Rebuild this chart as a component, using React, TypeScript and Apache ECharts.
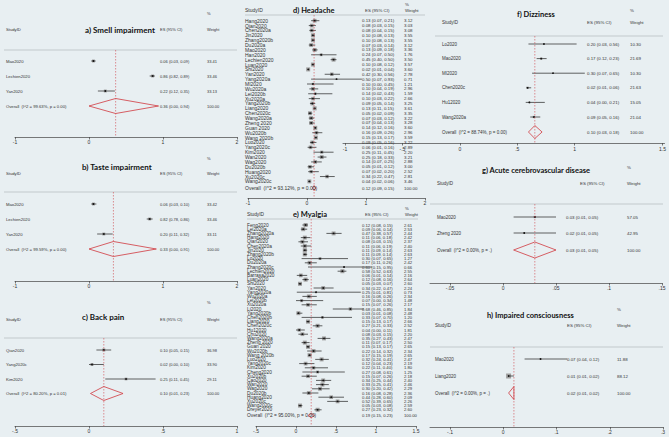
import React, { useEffect, useRef } from "react";
import * as echarts from "echarts";

// ---------- a) Smell impairment ----------
const smellStudies = ["Mao2020", "Lechien2020", "Yan2020"];
const smellES = [0.06, 0.86, 0.22];
const smellLo = [0.03, 0.82, 0.12];
const smellHi = [0.09, 0.89, 0.35];
const smellWeight = [33.41, 33.46, 33.13];
const smellOverall = [0.36, 0.0, 0.94];
const smellHet = "Overall  (I^2 = 99.63%, p = 0.00)";
const smellTicks = [-1, 0, 1, 2];

// ---------- b) Taste impairment ----------
const tasteStudies = ["Mao2020", "Lechien2020", "Yan2020"];
const tasteES = [0.06, 0.82, 0.2];
const tasteLo = [0.03, 0.78, 0.11];
const tasteHi = [0.1, 0.86, 0.32];
const tasteWeight = [33.42, 33.46, 33.11];
const tasteOverall = [0.33, 0.0, 0.91];
const tasteHet = "Overall  (I^2 = 99.59%, p = 0.00)";
const tasteTicks = [-1, 0, 1, 2];

// ---------- c) Back pain ----------
const backStudies = ["Qian2020", "Yang2020c", "Kim2020"];
const backES = [0.1, 0.02, 0.25];
const backLo = [0.05, 0.0, 0.11];
const backHi = [0.15, 0.1, 0.45];
const backWeight = [36.98, 33.9, 29.11];
const backOverall = [0.1, 0.01, 0.23];
const backHet = "Overall  (I^2 = 80.20%, p = 0.01)";
const backTicks = [-0.5, 0, 0.5, 1];

// ---------- d) Headache ----------
const headStudies = [
  "Hang2020", "Qian2020", "Chen2020a", "Jin2020", "Zhang2020b", "Du2020a", "Mao2020", "Han2020",
  "Lechien2020", "Luan2020", "Shi2020", "Yan2020", "Yang2020a", "MI2020", "Wu2020a", "Lei2020b",
  "Xu2020a", "Yang2020b", "Liang2020", "Chen2020c", "Wang2020a", "Zheng 2020", "Guan 2020", "Wu2020b",
  "Wang 2020b", "Luo2020", "Yang2020c", "Kim2020", "Wan2020", "Wag2020", "Du2020b", "Huang2020",
  "Xu2020c", "Wang2020c",
];
const headES = [0.13, 0.08, 0.08, 0.1, 0.1, 0.07, 0.13, 0.24, 0.45, 0.1, 0.02, 0.42, 0.5, 0.1, 0.1, 0.14, 0.1, 0.09, 0.13, 0.05, 0.07, 0.07, 0.14, 0.16, 0.15, 0.09, 0.06, 0.25, 0.25, 0.14, 0.05, 0.07, 0.34, 0.04];
const headLo = [0.07, 0.03, 0.04, 0.08, 0.08, 0.03, 0.09, 0.07, 0.4, 0.08, 0.01, 0.3, 0.07, 0.0, 0.04, 0.02, 0.03, 0.05, 0.11, 0.02, 0.03, 0.04, 0.12, 0.09, 0.13, 0.05, 0.01, 0.11, 0.18, 0.07, 0.01, 0.02, 0.22, 0.02];
const headHi = [0.21, 0.15, 0.15, 0.13, 0.13, 0.14, 0.18, 0.5, 0.5, 0.12, 0.04, 0.56, 0.93, 0.45, 0.19, 0.43, 0.22, 0.14, 0.15, 0.09, 0.12, 0.13, 0.16, 0.26, 0.17, 0.16, 0.16, 0.45, 0.33, 0.25, 0.12, 0.2, 0.47, 0.06];
const headWeight = [3.12, 3.03, 3.08, 3.55, 3.55, 3.12, 3.36, 1.76, 3.5, 3.57, 3.6, 2.78, 0.71, 1.21, 2.96, 1.59, 2.66, 3.25, 3.61, 3.35, 3.22, 3.28, 3.6, 2.96, 3.59, 3.22, 2.89, 2.2, 3.21, 2.88, 3.0, 2.52, 2.81, 3.46];
const headOverall = [0.12, 0.09, 0.15];
const headHet = "Overall  (I^2 = 93.12%, p = 0.00)";
const headTicks = [-1, 0, 1, 2];

// ---------- e) Myalgia ----------
const myaStudies = [
  "Feng2020", "Lei2020a", "Zhang2020a", "Hang2020", "Qian2020", "Chen2020a", "Jin2020", "Zhang2020b",
  "Lo2020", "Du2020a", "Zhang2020c", "Lechien2020", "Barrasa2020", "Luan2020", "Shi2020", "Yan2020",
  "Yang2020a", "Wu2020a", "Lei2020b", "Xu2020a", "Li2020", "Yang2020b", "Chen2020b", "Liang2020",
  "Chen2020c", "Hu12020", "Chu2020", "Wang2020a", "Zheng 2020", "Guan 2020", "Wu2020b", "Wang 2020b",
  "Luo2020", "Yang2020c", "Kim2020", "Cheng2020", "Xu2020b", "Cao2020", "Wan2020", "Wag2020",
  "Du2020b", "Huang2020", "Xu2020c", "Wang2020c", "Dreyer2020",
];
const myaES = [0.12, 0.09, 0.47, 0.11, 0.08, 0.11, 0.11, 0.11, 0.3, 0.17, 0.6, 0.58, 0.06, 0.12, 0.05, 0.34, 0.25, 0.16, 0.07, 0.15, 0.68, 0.03, 0.33, 0.15, 0.27, 0.04, 0.08, 0.35, 0.11, 0.15, 0.22, 0.17, 0.32, 0.12, 0.22, 0.27, 0.15, 0.34, 0.33, 0.3, 0.16, 0.44, 0.52, 0.05, 0.27];
const myaLo = [0.08, 0.06, 0.38, 0.06, 0.03, 0.06, 0.09, 0.09, 0.07, 0.11, 0.15, 0.52, 0.01, 0.08, 0.03, 0.22, 0.01, 0.08, 0.0, 0.07, 0.46, 0.01, 0.07, 0.13, 0.21, 0.0, 0.03, 0.27, 0.07, 0.13, 0.14, 0.15, 0.24, 0.04, 0.11, 0.08, 0.07, 0.25, 0.25, 0.2, 0.08, 0.28, 0.39, 0.03, 0.23];
const myaHi = [0.15, 0.14, 0.57, 0.18, 0.15, 0.19, 0.14, 0.14, 0.65, 0.26, 0.95, 0.63, 0.14, 0.16, 0.07, 0.47, 0.81, 0.26, 0.34, 0.26, 0.85, 0.08, 0.7, 0.17, 0.33, 0.11, 0.15, 0.43, 0.17, 0.17, 0.32, 0.19, 0.41, 0.23, 0.4, 0.61, 0.26, 0.44, 0.41, 0.42, 0.28, 0.6, 0.65, 0.08, 0.32];
const myaWeight = [2.61, 2.53, 2.44, 2.42, 2.37, 2.4, 2.63, 2.63, 1.27, 2.42, 0.66, 2.55, 2.16, 2.64, 2.6, 2.24, 0.73, 2.34, 1.48, 2.17, 1.84, 2.48, 1.2, 2.66, 2.52, 1.81, 2.2, 2.47, 2.5, 2.65, 2.34, 2.65, 2.47, 2.19, 1.8, 1.25, 2.18, 2.4, 2.46, 2.29, 2.36, 2.09, 2.26, 2.59, 2.6];
const myaOverall = [0.19, 0.15, 0.23];
const myaHet = "Overall  (I^2 = 95.00%, p = 0.00)";
const myaTicks = [-0.5, 0, 0.5, 1, 1.5];

// ---------- f) Dizziness ----------
const dizStudies = ["Lo2020", "Mao2020", "MI2020", "Chen2020c", "Hu12020", "Wang2020a"];
const dizES = [0.2, 0.17, 0.3, 0.02, 0.04, 0.09];
const dizLo = [0.03, 0.12, 0.07, 0.01, 0.0, 0.05];
const dizHi = [0.56, 0.23, 0.65, 0.06, 0.21, 0.16];
const dizWeight = [10.3, 21.69, 10.3, 21.63, 15.05, 21.04];
const dizOverall = [0.1, 0.03, 0.18];
const dizHet = "Overall  (I^2 = 88.74%, p = 0.00)";
const dizTickLabels = ["-1", "-.5", "0", ".5", "1", "1.5"];

// ---------- g) Acute cerebrovascular disease ----------
const cvdStudies = ["Mao2020", "Zheng 2020"];
const cvdES = [0.03, 0.02];
const cvdLo = [0.01, 0.01];
const cvdHi = [0.05, 0.05];
const cvdWeight = [57.05, 42.95];
const cvdOverall = [0.03, 0.01, 0.05];
const cvdHet = "Overall  (I^2 = 0.00%, p = .)";
const cvdTicks = [-0.05, 0, 0.05, 0.1, 0.15];

// ---------- h) Impaired consciousness ----------
const icStudies = ["Mao2020", "Liang2020"];
const icES = [0.07, 0.01];
const icLo = [0.04, 0.01];
const icHi = [0.12, 0.02];
const icWeight = [11.88, 88.12];
const icOverall = [0.02, 0.01, 0.02];
const icHet = "Overall  (I^2 = 0.00%, p = .)";
const icTicks = [-0.1, 0, 0.1, 0.2, 0.3];

const BG = "#e8eff2";
const TXT = "#333";
const SANS = "'Liberation Sans', Arial, sans-serif";
const TITLE_FONT = "Lato, 'Open Sans', sans-serif";

type Layout = {
  axisL: number; axisR: number; xMin: number; xMax: number;
  top: number; axisY: number; row0: number; step: number; overallY: number;
  nameX: number; esX: number; wX: number; nameFont: number; esFont: number;
  boxK: number; diamondH: number;
  titleX: number; titleY: number; titleFont: number;
  headY: number; pctY: number; esHeadX: number; wHeadX: number; divL: number; divR: number;
  labelMargin: number;
  // optional separate display scale for the drawn axis (panel f)
  disp?: { min: number; max: number; ticks: number[] };
};

const smallCol = { nameX: 6, esX: 160, wX: 207, nameFont: 4.2, esFont: 4, esHeadX: 160, wHeadX: 207, divL: 4, divR: 237 };

const panels = [
  {
    title: "a) Smell impairment", studies: smellStudies, es: smellES, lo: smellLo, hi: smellHi, w: smellWeight,
    overall: smellOverall, het: smellHet, ticks: smellTicks, tickLabels: null as string[] | null,
    L: { axisL: 15, axisR: 237, xMin: -1, xMax: 2, top: 50, axisY: 137, row0: 61, step: 15, overallY: 106,
      ...smallCol, boxK: 0.5, diamondH: 15, titleX: 85, titleY: 30, titleFont: 8, headY: 29, pctY: 13, labelMargin: 2 } as Layout,
  },
  {
    title: "b) Taste impairment", studies: tasteStudies, es: tasteES, lo: tasteLo, hi: tasteHi, w: tasteWeight,
    overall: tasteOverall, het: tasteHet, ticks: tasteTicks, tickLabels: null,
    L: { axisL: 15, axisR: 237, xMin: -1, xMax: 2, top: 192, axisY: 281, row0: 204, step: 15, overallY: 249,
      ...smallCol, boxK: 0.5, diamondH: 15, titleX: 82, titleY: 167, titleFont: 8, headY: 173, pctY: 158, labelMargin: 2 } as Layout,
  },
  {
    title: "c) Back pain", studies: backStudies, es: backES, lo: backLo, hi: backHi, w: backWeight,
    overall: backOverall, het: backHet, ticks: backTicks, tickLabels: null,
    L: { axisL: 15, axisR: 237, xMin: -0.5, xMax: 1, top: 338, axisY: 426, row0: 350, step: 14.5, overallY: 393.5,
      ...smallCol, boxK: 0.5, diamondH: 14, titleX: 82, titleY: 317, titleFont: 8, headY: 319, pctY: 302, labelMargin: 2 } as Layout,
  },
  {
    title: "d) Headache", studies: headStudies, es: headES, lo: headLo, hi: headHi, w: headWeight,
    overall: headOverall, het: headHet, ticks: headTicks, tickLabels: null,
    L: { axisL: 248, axisR: 425, xMin: -1, xMax: 2, top: 15, axisY: 198, row0: 20.7, step: 4.87, overallY: 188,
      nameX: 245, esX: 362, wX: 404, nameFont: 5, esFont: 4.4, boxK: 2.1, diamondH: 5,
      titleX: 293, titleY: 10, titleFont: 7.5, headY: 10, pctY: 4, esHeadX: 365, wHeadX: 405, divL: 245, divR: 425, labelMargin: 2 } as Layout,
  },
  {
    title: "e) Myalgia", studies: myaStudies, es: myaES, lo: myaLo, hi: myaHi, w: myaWeight,
    overall: myaOverall, het: myaHet, ticks: myaTicks, tickLabels: null,
    L: { axisL: 256, axisR: 416, xMin: -0.5, xMax: 1.5, top: 219, axisY: 426, row0: 225, step: 4.2, overallY: 415.5,
      nameX: 247, esX: 362, wX: 404, nameFont: 4.8, esFont: 4.2, boxK: 2.5, diamondH: 4.5,
      titleX: 293, titleY: 214, titleFont: 7.5, headY: 214, pctY: 208, esHeadX: 365, wHeadX: 405, divL: 247, divR: 418, labelMargin: 2 } as Layout,
  },
  {
    title: "f) Dizziness", studies: dizStudies, es: dizES, lo: dizLo, hi: dizHi, w: dizWeight,
    overall: dizOverall, het: dizHet, ticks: [] as number[], tickLabels: dizTickLabels,
    L: { axisL: 343, axisR: 665, xMin: -2.011, xMax: 1.5275, top: 36, axisY: 143, row0: 44, step: 14.6, overallY: 132,
      nameX: 442, esX: 587, wX: 630, nameFont: 4.5, esFont: 4.4, boxK: 0.5, diamondH: 13,
      titleX: 517, titleY: 14, titleFont: 7.5, headY: 22, pctY: 10, esHeadX: 587, wHeadX: 630, divL: 435, divR: 663, labelMargin: 3,
      disp: { min: -1.0174, max: 1.7826, ticks: [-1, -0.5, 0, 0.5, 1, 1.7652] } } as Layout,
  },
  {
    title: "g) Acute cerebrovascular disease", studies: cvdStudies, es: cvdES, lo: cvdLo, hi: cvdHi, w: cvdWeight,
    overall: cvdOverall, het: cvdHet, ticks: cvdTicks, tickLabels: null,
    L: { axisL: 430, axisR: 662, xMin: -0.0689, xMax: 0.15, top: 204, axisY: 283, row0: 217, step: 16, overallY: 250,
      nameX: 437, esX: 566, wX: 627, nameFont: 4.5, esFont: 4.4, boxK: 0.3, diamondH: 16,
      titleX: 482, titleY: 170, titleFont: 7.5, headY: 183, pctY: 167, esHeadX: 580, wHeadX: 627, divL: 430, divR: 663, labelMargin: 2 } as Layout,
  },
  {
    title: "h) Impaired consciousness", studies: icStudies, es: icES, lo: icLo, hi: icHi, w: icWeight,
    overall: icOverall, het: icHet, ticks: icTicks, tickLabels: null,
    L: { axisL: 430, axisR: 663, xMin: -0.1376, xMax: 0.3, top: 347, axisY: 427, row0: 359, step: 17, overallY: 393,
      nameX: 435, esX: 567, wX: 617, nameFont: 4.5, esFont: 4.4, boxK: 0.53, diamondH: 13,
      titleX: 487, titleY: 315, titleFont: 7.5, headY: 325, pctY: 309, esHeadX: 567, wHeadX: 617, divL: 430, divR: 663, labelMargin: 2 } as Layout,
  },
];

const f2 = (v: number) => v.toFixed(2);
const stataTick = (v: number) => {
  const r = Math.round(v * 1000) / 1000;
  if (r === 0) return "0";
  return String(r).replace(/^0\./, ".").replace(/^-0\./, "-.");
};

function txt(text: string, x: number, y: number, size: number, family = SANS, weight: any = "normal", fill = TXT, align = "left") {
  return {
    type: "text", x, y, silent: true,
    style: { text, fontSize: size, fontFamily: family, fontWeight: weight, fill, textAlign: align, textVerticalAlign: "middle" },
  };
}

function axisStyle(ticks: number[], margin: number, formatter: (v: number) => string) {
  return {
    axisLine: { show: true, onZero: false, lineStyle: { color: "#444", width: 0.7 } },
    axisTick: { show: true, length: 2.5, customValues: ticks, lineStyle: { color: "#444", width: 0.7 } },
    axisLabel: { show: true, customValues: ticks, fontSize: 5, color: TXT, fontFamily: SANS, margin, formatter },
    splitLine: { show: false },
  };
}

function buildOption() {
  const grid: any[] = [];
  const xAxis: any[] = [];
  const yAxis: any[] = [];
  const series: any[] = [];
  const graphic: any[] = [];

  panels.forEach((p, i) => {
    const L = p.L;
    const yMin = (L.top - L.row0) / L.step;
    const yMax = (L.axisY - L.row0) / L.step;
    const rOverall = (L.overallY - L.row0) / L.step;
    grid.push({ left: L.axisL, top: L.top, width: L.axisR - L.axisL, height: L.axisY - L.top });

    const dataAxisIndex = xAxis.length;
    if (L.disp) {
      // hidden data scale
      xAxis.push({ gridIndex: i, type: "value", position: "top", min: L.xMin, max: L.xMax, show: false });
      // drawn axis as printed in the figure
      const d = L.disp;
      const labels = p.tickLabels || [];
      xAxis.push({
        gridIndex: i, type: "value", position: "bottom", min: d.min, max: d.max,
        ...axisStyle(d.ticks, L.labelMargin, (v: number) => {
          let best = 0;
          d.ticks.forEach((t, k) => { if (Math.abs(t - v) < Math.abs(d.ticks[best] - v)) best = k; });
          return labels[best] ?? "";
        }),
      });
    } else {
      xAxis.push({
        gridIndex: i, type: "value", position: "bottom", min: L.xMin, max: L.xMax,
        ...axisStyle(p.ticks, L.labelMargin, (v: number) => stataTick(v)),
      });
    }
    yAxis.push({ gridIndex: i, type: "value", inverse: true, min: yMin, max: yMax, show: false });

    // study rows
    series.push({
      type: "custom", xAxisIndex: dataAxisIndex, yAxisIndex: i, clip: false, silent: true,
      data: p.studies.map((s, j) => [p.es[j], j, p.lo[j], p.hi[j], p.w[j]]),
      renderItem: (params: any, api: any) => {
        const j = params.dataIndex;
        const es = api.value(0), r = api.value(1), lo = api.value(2), hi = api.value(3), w = api.value(4);
        const pe = api.coord([es, r]);
        const pl = api.coord([lo, r]);
        const ph = api.coord([hi, r]);
        const s = L.boxK * Math.sqrt(w);
        return {
          type: "group",
          children: [
            { type: "rect", shape: { x: pe[0] - s / 2, y: pe[1] - s / 2, width: s, height: s }, style: { fill: "#9e9e9e" } },
            { type: "line", shape: { x1: pl[0], y1: pl[1], x2: ph[0], y2: ph[1] }, style: { stroke: "#222", lineWidth: 0.7 } },
            { type: "circle", shape: { cx: pe[0], cy: pe[1], r: 0.8 }, style: { fill: "#111" } },
            txt(p.studies[j], L.nameX, pe[1], L.nameFont),
            txt(`${f2(es)} (${f2(lo)}, ${f2(hi)})`, L.esX, pe[1], L.esFont),
            txt(f2(w), L.wX, pe[1], L.esFont),
          ],
        };
      },
    });

    // overall diamond, reference line, label
    series.push({
      type: "custom", xAxisIndex: dataAxisIndex, yAxisIndex: i, clip: false, silent: true,
      data: [[p.overall[0], rOverall, p.overall[1], p.overall[2]]],
      renderItem: (params: any, api: any) => {
        const es = api.value(0), r = api.value(1), lo = api.value(2), hi = api.value(3);
        const pe = api.coord([es, r]);
        const pl = api.coord([lo, r]);
        const ph = api.coord([hi, r]);
        const t = api.coord([es, yMin]);
        const b = api.coord([es, yMax]);
        const h = L.diamondH / 2;
        return {
          type: "group",
          children: [
            { type: "line", shape: { x1: t[0], y1: t[1], x2: b[0], y2: b[1] }, style: { stroke: "#d0484f", lineWidth: 0.6, lineDash: [1.5, 1.5] } },
            { type: "polygon", shape: { points: [[pl[0], pe[1]], [pe[0], pe[1] - h], [ph[0], pe[1]], [pe[0], pe[1] + h]] }, style: { fill: "none", stroke: "#d0393f", lineWidth: 0.8 } },
            txt(p.het, L.nameX, pe[1], L.nameFont),
            txt(`${f2(es)} (${f2(lo)}, ${f2(hi)})`, L.esX, pe[1], L.esFont),
            txt("100.00", L.wX, pe[1], L.esFont),
          ],
        };
      },
    });

    // headers
    graphic.push(txt("StudyID", L.nameX, L.headY, L.nameFont));
    graphic.push(txt(p.title, L.titleX, L.titleY, L.titleFont, TITLE_FONT, "bold", "#111"));
    graphic.push(txt("ES (95% CI)", L.esHeadX, L.headY, L.esFont));
    graphic.push(txt("%", L.wHeadX, L.pctY, L.esFont));
    graphic.push(txt("Weight", L.wHeadX, L.headY, L.esFont));
    graphic.push({ type: "line", silent: true, shape: { x1: L.divL, y1: L.top, x2: L.divR, y2: L.top }, style: { stroke: "#a9b0b4", lineWidth: 0.6 } });
  });

  return { animation: false, backgroundColor: BG, grid, xAxis, yAxis, series, graphic };
}

export default function App() {
  const ref = useRef<HTMLDivElement>(null);
  useEffect(() => {
    if (!ref.current) return;
    const chart = echarts.init(ref.current, undefined, { renderer: "svg" });
    chart.setOption(buildOption() as any);
    return () => chart.dispose();
  }, []);
  return (
    <div
      ref={ref}
      style={{ position: "fixed", left: 0, top: 0, width: 669, height: 437, background: BG }}
    />
  );
}
